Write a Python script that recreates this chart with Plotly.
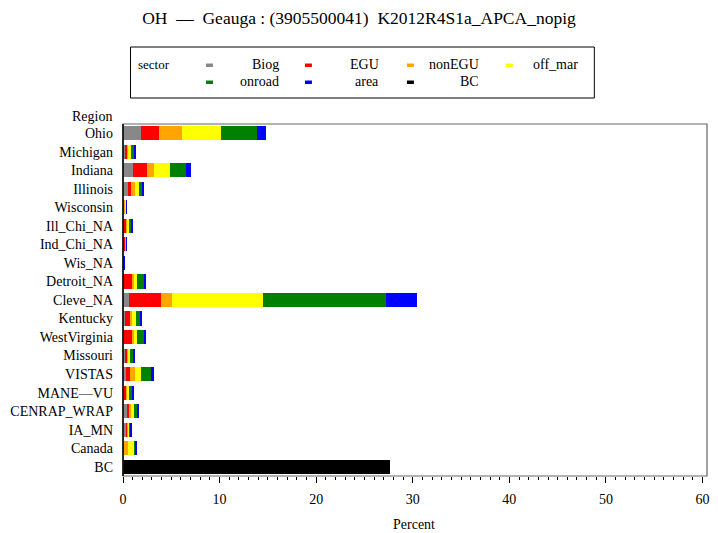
import plotly.graph_objects as go

regions = ["Ohio", "Michigan", "Indiana", "Illinois", "Wisconsin", "Ill_Chi_NA",
           "Ind_Chi_NA", "Wis_NA", "Detroit_NA", "Cleve_NA", "Kentucky",
           "WestVirginia", "Missouri", "VISTAS", "MANE\u2014VU", "CENRAP_WRAP",
           "IA_MN", "Canada", "BC"]

sectors = ["Biog", "EGU", "nonEGU", "off_mar", "onroad", "area", "BC"]
colors = ["#888888", "#ff0000", "#ffa500", "#ffff00", "#008000", "#0000ff", "#000000"]

biog    = [1.85, 0.30, 1.00, 0.50, 0.10, 0.02, 0.02, 0.01, 0.05, 0.60, 0.25, 0.10, 0.25, 0.28, 0.10, 0.45, 0.32, 0.12, 0]
egu     = [1.85, 0.15, 1.45, 0.30, 0.05, 0.30, 0.20, 0.01, 0.95, 3.35, 0.45, 0.90, 0.17, 0.42, 0.25, 0.21, 0.13, 0.02, 0]
nonegu  = [2.40, 0.15, 0.80, 0.40, 0.12, 0.15, 0.10, 0.01, 0.15, 1.15, 0.23, 0.15, 0.10, 0.51, 0.14, 0.21, 0.07, 0.38, 0]
off_mar = [4.00, 0.20, 1.65, 0.50, 0.08, 0.15, 0.02, 0.02, 0.27, 9.40, 0.39, 0.27, 0.21, 0.62, 0.14, 0.27, 0.14, 0.69, 0]
onroad  = [3.75, 0.35, 1.65, 0.35, 0.03, 0.30, 0.02, 0.02, 0.76, 12.70, 0.41, 0.76, 0.34, 1.04, 0.31, 0.35, 0.10, 0.10, 0]
area    = [1.00, 0.13, 0.45, 0.15, 0.02, 0.05, 0.01, 0.08, 0.14, 3.20, 0.27, 0.14, 0.11, 0.38, 0.14, 0.17, 0.07, 0.07, 0]
bc      = [0, 0, 0, 0, 0, 0, 0, 0, 0, 0, 0, 0, 0, 0, 0, 0, 0, 0, 27.6]
series = [biog, egu, nonegu, off_mar, onroad, area, bc]

title = "OH  \u2014  Geauga : (3905500041)  K2012R4S1a_APCA_nopig"
xticks = [0, 10, 20, 30, 40, 50, 60]

FONT = "Liberation Serif"

fig = go.Figure()
for name, col, vals in zip(sectors, colors, series):
    fig.add_trace(go.Bar(y=regions, x=vals, orientation="h", name=name,
                         marker=dict(color=col, line=dict(width=0)),
                         showlegend=False))

W, H = 718, 533
L, R, T, B = 122.5, 706.7, 124, 476
pw, ph = R - L, B - T


def px(x):
    return (x - L) / pw


def py(y):
    return (B - y) / ph


shapes = []
annotations = []

# frame
shapes.append(dict(type="rect", xref="paper", yref="paper", x0=0, x1=1, y0=0, y1=1,
                   line=dict(color="#666666", width=1.2), layer="above"))
shapes.append(dict(type="line", xref="paper", yref="paper", x0=0, x1=0, y0=0, y1=1,
                   line=dict(color="#000000", width=1.5), layer="above"))

# legend box
shapes.append(dict(type="rect", xref="paper", yref="paper", x0=px(130), x1=px(594),
                   y0=py(98), y1=py(47), line=dict(color="#000000", width=1)))
annotations.append(dict(text="sector", xref="paper", yref="paper", x=px(136), y=py(64),
                        xanchor="left", yanchor="middle", showarrow=False,
                        font=dict(family=FONT, size=13, color="#000")))
sym_x = [209, 308, 410, 509]
lab_x = [281, 381, 481, 580]
row_y = [65, 82]
for i, (name, col) in enumerate(zip(sectors, colors)):
    r, c = divmod(i, 4)
    sx, ly = sym_x[c], row_y[r]
    shapes.append(dict(type="rect", xref="paper", yref="paper",
                       x0=px(sx - 3.5), x1=px(sx + 3.5), y0=py(ly + 2), y1=py(ly - 1.5),
                       fillcolor=col, line=dict(width=0)))
    annotations.append(dict(text=name, xref="paper", yref="paper", x=px(lab_x[c]), y=py(ly - 1),
                            xanchor="right", yanchor="middle", showarrow=False,
                            font=dict(family=FONT, size=14, color="#000")))

annotations.append(dict(text="Region", xref="paper", yref="paper", x=px(113.5), y=py(116),
                        xanchor="right", yanchor="middle", showarrow=False,
                        font=dict(family=FONT, size=14, color="#000")))
annotations.append(dict(text="Percent", xref="paper", yref="paper", x=px(414), y=py(524),
                        xanchor="center", yanchor="middle", showarrow=False,
                        font=dict(family=FONT, size=14, color="#000")))

fig.update_layout(
    width=W, height=H,
    margin=dict(l=L, r=W - R, t=T, b=H - B),
    paper_bgcolor="white", plot_bgcolor="white",
    barmode="stack", bargap=0.24,
    title=dict(text=title, x=0.5, xanchor="center", y=1 - 18 / H, yanchor="middle",
               font=dict(family=FONT, size=17.5, color="#000")),
    xaxis=dict(range=[0, 60.46], tickvals=xticks, ticktext=[str(v) for v in xticks],
               ticks="outside", ticklen=6, tickcolor="#000", tickwidth=1,
               minor=dict(dtick=1, ticks="outside", ticklen=3, tickcolor="#000", tickwidth=1),
               showgrid=False, zeroline=False, showline=False, automargin=False,
               ticklabelstandoff=4,
               tickfont=dict(family=FONT, size=14, color="#000")),
    yaxis=dict(categoryorder="array", categoryarray=regions, autorange="reversed",
               showgrid=False, zeroline=False, showline=False, ticks="",
               ticklabelstandoff=9, automargin=False,
               tickfont=dict(family=FONT, size=14, color="#000")),
    shapes=shapes, annotations=annotations,
)

fig.write_html("out.html")
